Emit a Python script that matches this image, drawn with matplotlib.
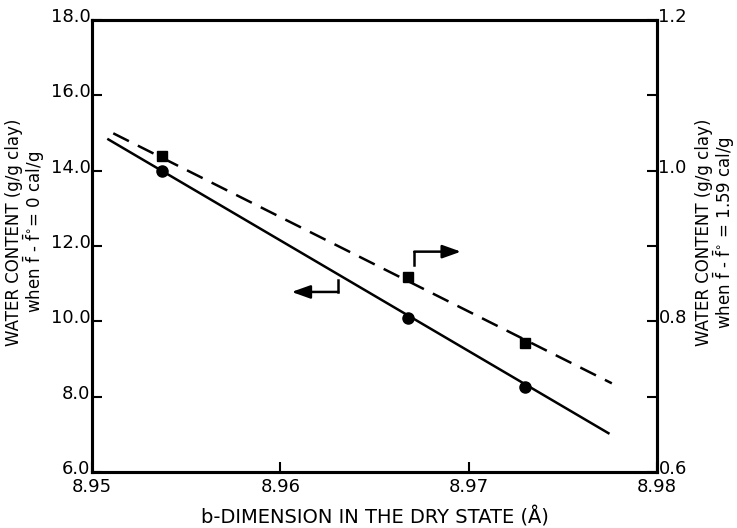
import matplotlib.pyplot as plt
import matplotlib.transforms as mtransforms

plt.rcParams['font.family'] = ['DejaVu Sans']
plt.rcParams['mathtext.fontset'] = 'dejavusans'

# measured points (left axis: f - f0 = 0, right axis: f - f0 = 1.59)
b_dim = [8.9537, 8.9668, 8.9730]
water_left = [13.99, 10.08, 8.26]
water_right = [1.019, 0.859, 0.771]

# fitted lines, endpoints
fit_x_left = [8.95087, 8.97742]
fit_y_left = [14.83, 7.03]
fit_x_right = [8.95113, 8.97760]
fit_y_right = [1.0496, 0.7177]

x_ticks = [8.95, 8.96, 8.97, 8.98]
left_ticks = [6.0, 8.0, 10.0, 12.0, 14.0, 16.0, 18.0]
right_ticks = [0.6, 0.8, 1.0, 1.2]
right_minor = [0.7, 0.9, 1.1]

fig = plt.figure(figsize=(7.37, 5.28), dpi=100)
ax = fig.add_axes([0.1248, 0.1061, 0.7667, 0.856])
ax2 = ax.twinx()

ax.plot(fit_x_left, fit_y_left, color='black', lw=1.8)
ax.plot(b_dim, water_left, 'o', color='black', ms=8)
ax2.plot(fit_x_right, fit_y_right, color='black', lw=1.8, dashes=(7, 4))
ax2.plot(b_dim[:len(water_right)], water_right, 's', color='black', ms=7.5)

# arrows pointing to the axis each line belongs to
arrow = dict(arrowstyle='-|>,head_length=0.7,head_width=0.25', color='black', lw=1.8,
             mutation_scale=16, shrinkA=0, shrinkB=0)
ax.plot([8.96308, 8.96308], [11.10, 10.78], color='black', lw=1.8)
ax.annotate('', xy=(8.9606, 10.78), xytext=(8.96308, 10.78), arrowprops=arrow)
ax.plot([8.96711, 8.96711], [11.50, 11.85], color='black', lw=1.8)
ax.annotate('', xy=(8.96959, 11.85), xytext=(8.96711, 11.85), arrowprops=arrow)

ax.set_xlim(8.95, 8.98)
ax.set_ylim(6.0, 18.0)
ax2.set_ylim(0.6, 1.2)

ax.set_xticks(x_ticks)
ax.set_xticklabels(['%.2f' % v for v in x_ticks])
ax.set_yticks(left_ticks)
ax.set_yticklabels(['%.1f' % v for v in left_ticks])
ax2.set_yticks(right_ticks)
ax2.set_yticklabels(['%.1f' % v for v in right_ticks])
ax2.set_yticks(right_minor, minor=True)

ax.tick_params(axis='both', direction='in', length=7, width=1.5, labelsize=13, pad=1)
ax.tick_params(axis='x', pad=4)
ax2.tick_params(axis='y', which='both', direction='in', length=7, width=1.5, labelsize=13, pad=1)

# y tick labels sit a little above their tick
shift = mtransforms.ScaledTranslation(0, 3.5 / 72, fig.dpi_scale_trans)
for lab in ax.get_yticklabels() + ax2.get_yticklabels():
    lab.set_transform(lab.get_transform() + shift)

for a in (ax, ax2):
    for s in a.spines.values():
        s.set_linewidth(2.2)

ax.set_xlabel('b-DIMENSION IN THE DRY STATE (Å)', fontsize=14, labelpad=8)
ax.set_ylabel('WATER CONTENT (g/g clay)\n' + r'when $\bar{\mathrm{f}}$ - $\bar{\mathrm{f}}^{\circ}$= 0 cal/g',
              fontsize=12, linespacing=0.9)
ax.yaxis.set_label_coords(-0.08, 0.53)
ax2.set_ylabel('WATER CONTENT (g/g clay)\n' + r'when $\bar{\mathrm{f}}$ - $\bar{\mathrm{f}}^{\circ}$ = 1.59 cal/g',
               fontsize=12, linespacing=0.9, rotation=90)
ax2.yaxis.set_label_coords(1.068, 0.53)

fig.savefig('out.png', dpi=100)
